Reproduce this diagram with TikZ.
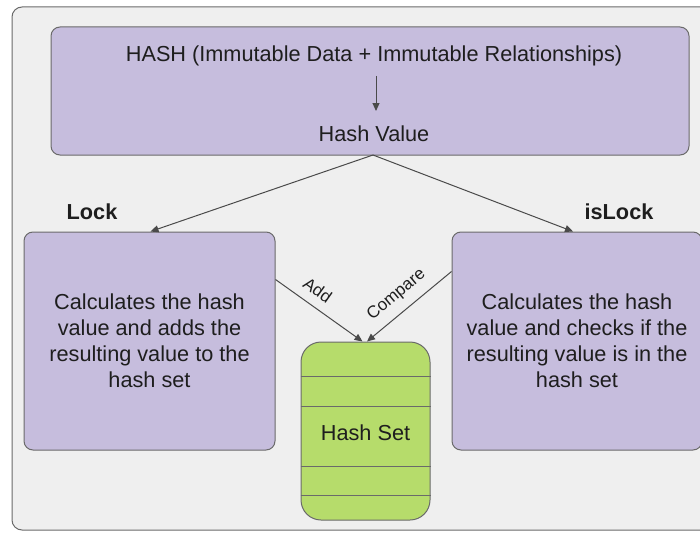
\documentclass[tikz,border=0pt]{standalone}
\usepackage{fontspec}
\setmainfont{Liberation Sans}
\usetikzlibrary{arrows.meta,calc}
\definecolor{panelfill}{HTML}{EFEFEF}
\definecolor{edgegray}{HTML}{6A6A6A}
\definecolor{lilac}{HTML}{C6BDDD}
\definecolor{limefill}{HTML}{B6DC6B}
\definecolor{ink}{HTML}{1E1E1E}
\definecolor{wire}{HTML}{4A4A4A}
\tikzset{
  panel/.style={draw=edgegray, fill=panelfill, line width=1pt, rounded corners=10pt},
  purplebox/.style={draw=edgegray, fill=lilac, line width=1pt, rounded corners=9pt,
    text=ink, align=center, inner sep=0pt},
  setbox/.style={draw=edgegray, fill=limefill, line width=1pt, rounded corners=20pt,
    text=ink, inner sep=0pt},
  bigtext/.style={text=ink, font=\fontsize{21.7}{26}\selectfont, inner sep=0pt},
  headtext/.style={text=ink, font=\fontsize{21.7}{26}\selectfont\bfseries, inner sep=0pt},
  edgetext/.style={text=ink, font=\fontsize{17}{20}\selectfont, inner sep=2pt},
  link/.style={draw=wire, line width=1pt, -{Triangle[length=8pt,width=7pt]}},
}
\begin{document}
\begin{tikzpicture}[x=1pt,y=-1pt]
\useasboundingbox (0,0) rectangle (700,532);
\clip (0,0) rectangle (700,532);

% background panel
\draw[panel] (12,7) rectangle (716,530);

% hashing stage
\node[purplebox, minimum width=638pt, minimum height=128pt] (hashbox) at (370,91) {};
\node[bigtext] (hashfn) at (374,56) {HASH (Immutable Data + Immutable Relationships)};
\node[bigtext] (hashval) at (374,134) {Hash Value};
\coordinate (fnout) at (376,76);
\coordinate (valin) at (376,111);
\draw[link] (fnout) -- (valin);
\coordinate (fork) at (373,155);

% operations
\node[purplebox, bigtext, minimum width=251pt, minimum height=218pt] (lock) at (149.5,341)
  {Calculates the hash\\value and adds the\\resulting value to the\\hash set};
\node[purplebox, bigtext, minimum width=250pt, minimum height=218pt] (islock) at (577,341)
  {Calculates the hash\\value and checks if the\\resulting value is in the\\hash set};
\node[headtext] (locklbl) at (92,212) {Lock};
\node[headtext] (islocklbl) at (619,212) {isLock};

% hash set
\node[setbox, minimum width=129pt, minimum height=178pt] (hashset) at (365.5,431) {};
\foreach \yy in {376,406,466,495}
  \draw[draw=edgegray, line width=1pt] (hashset.west |- 0,\yy) -- (hashset.east |- 0,\yy);
\node[bigtext] (setlbl) at (365.5,433) {Hash Set};

% connectors
\draw[link] (fork) -- ([xshift=1pt]lock.north);
\draw[link] (fork) -- ([xshift=-4pt]islock.north);
\coordinate (addfrom) at ([yshift=-48pt]lock.north east);
\coordinate (cmpfrom) at ([yshift=-40pt]islock.north west);
\draw[link] (addfrom) -- node[edgetext, sloped, above=7pt, pos=0.38] {Add} ([xshift=-3pt]hashset.north);
\draw[link] (cmpfrom) -- node[edgetext, sloped, above=7pt, pos=0.52] {Compare} ([xshift=1.5pt]hashset.north);
\end{tikzpicture}
\end{document}
